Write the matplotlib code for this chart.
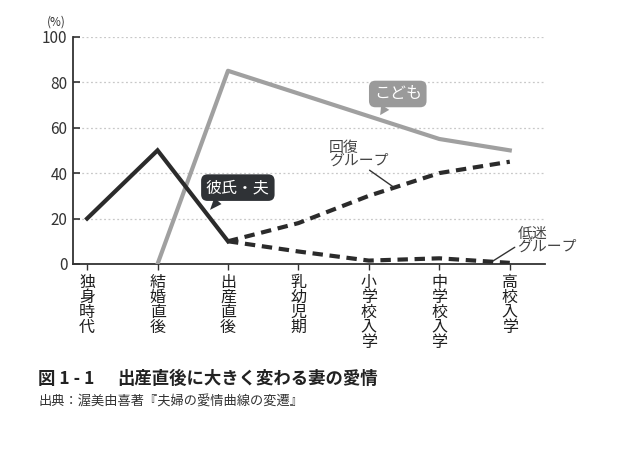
import matplotlib
matplotlib.use("Agg")
import matplotlib.pyplot as plt

plt.rcParams['font.family'] = ['Noto Sans CJK JP', 'DejaVu Sans']

categories = ["独身時代", "結婚直後", "出産直後", "乳幼児期", "小学校入学", "中学校入学", "高校入学"]
husband = [20, 50, 10]
children = [0, 85, 75, 65, 55, 50]
recovery = [10, 18, 30, 40, 45]
slump = [10, 5.5, 1.5, 2.5, 0.5]
yticks = [0, 20, 40, 60, 80, 100]

W, H = 631, 450
fig = plt.figure(figsize=(W / 100, H / 100), dpi=100)
ax = fig.add_axes([73 / W, 1 - 264 / H, (545 - 73) / W, (264 - 36.7) / H])

x = list(range(len(categories)))
dark = "#2b2b2b"
gray = "#a0a0a0"

ax.plot(x[1:], children, color=gray, lw=3, solid_joinstyle='round', zorder=3)
ax.plot(x[:3], husband, color=dark, lw=3, solid_joinstyle='miter', zorder=4)
ax.plot(x[2:], recovery, color=dark, lw=3, ls=(0, (2.5, 1.6)), zorder=4)
ax.plot(x[2:], slump, color=dark, lw=3, ls=(0, (2.5, 1.6)), zorder=4)

ax.set_xlim(-0.2, 6.5)
ax.set_ylim(0, 100)
ax.set_yticks(yticks)
ax.set_yticklabels([str(v) for v in yticks], fontsize=11, color="#333333")
ax.set_xticks(x)
ax.set_xticklabels(["\n".join(c) for c in categories], fontsize=11.5, color="#1e1e1e",
                   va='top', linespacing=0.85)
ax.tick_params(axis='y', direction='in', length=5, width=1.2, color="#333333", pad=4)
ax.tick_params(axis='x', direction='out', length=4, width=1, color="#333333", pad=3)
ax.yaxis.grid(True, ls=(0, (1.5, 2)), color="#c8c8c8", lw=0.9)
ax.set_axisbelow(True)
for s in ['top', 'right']:
    ax.spines[s].set_visible(False)
for s in ['left', 'bottom']:
    ax.spines[s].set_color("#333333")
    ax.spines[s].set_linewidth(1.3)

fig.text(47 / W, 1 - 22 / H, "(%)", fontsize=8.5, color="#333333", va='center')

# callouts
ax.annotate("彼氏・夫", xy=(1.745, 23.8), xytext=(2.14, 33.6), fontsize=11.5, color="white",
            ha='center', va='center',
            bbox=dict(boxstyle="round,pad=0.3,rounding_size=0.4", fc="#2f3236", ec="none"),
            arrowprops=dict(arrowstyle="wedge,tail_width=0.6", fc="#2f3236", ec="none",
                            shrinkA=0, shrinkB=0, relpos=(0.3, 0.2)),
            zorder=6)
ax.annotate("こども", xy=(4.16, 65.5), xytext=(4.41, 74.8), fontsize=11.5, color="white",
            ha='center', va='center',
            bbox=dict(boxstyle="round,pad=0.3,rounding_size=0.4", fc="#9a9a9a", ec="none"),
            arrowprops=dict(arrowstyle="wedge,tail_width=0.6", fc="#9a9a9a", ec="none",
                            shrinkA=0, shrinkB=0, relpos=(0.35, 0.2)),
            zorder=6)
ax.annotate("回復\nグループ", xy=(4.37, 33.4), xytext=(3.43, 48.4), fontsize=10.7, color="#444444",
            ha='left', va='center', linespacing=0.9,
            arrowprops=dict(arrowstyle="-", color="#333333", lw=1.0, shrinkA=0, shrinkB=0,
                            relpos=(0.62, 0.0)))
ax.annotate("低迷\nグループ", xy=(5.74, 0.9), xytext=(6.11, 10.5), fontsize=10.7, color="#444444",
            ha='left', va='center', linespacing=0.9,
            arrowprops=dict(arrowstyle="-", color="#333333", lw=1.0, shrinkA=0, shrinkB=0,
                            relpos=(0.0, 0.3)))

fig.text(38 / W, 1 - 379 / H, "図 1 - 1", fontsize=12.5,
         fontweight='bold', color="#222222", va='center')
fig.text(117 / W, 1 - 379 / H, "出産直後に大きく変わる妻の愛情", fontsize=12.5,
         fontweight='bold', color="#222222", va='center')
fig.text(38 / W, 1 - 402 / H, "出典：渥美由喜著『夫婦の愛情曲線の変遷』", fontsize=9.5,
         color="#333333", va='center')

fig.savefig("out.png", dpi=100, facecolor="white")
